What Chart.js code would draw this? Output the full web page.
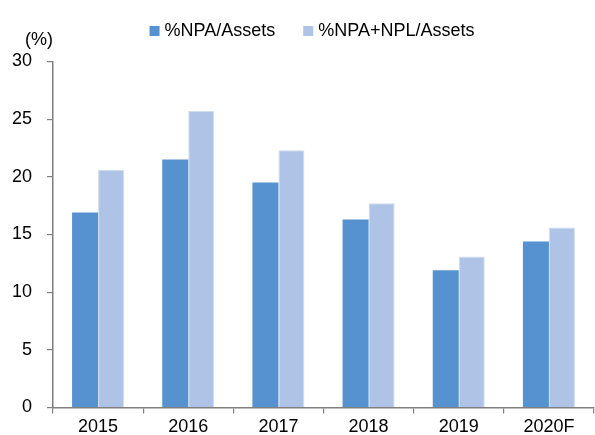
<!DOCTYPE html>
<html>
<head>
<meta charset="utf-8">
<script src="https://cdn.jsdelivr.net/npm/chart.js@4"></script>
<style>
html,body{margin:0;padding:0;background:#fff;}
#wrap{width:595px;height:435px;}
</style>
</head>
<body>
<div id="wrap"><canvas id="c" width="595" height="435"></canvas></div>
<script>
const categories = ['2015','2016','2017','2018','2019','2020F'];
const npaAssets = [16.9, 21.5, 19.5, 16.3, 11.9, 14.4];
const npaNplAssets = [20.6, 25.7, 22.3, 17.7, 13.1, 15.6];
const seriesLabels = ['%NPA/Assets', '%NPA+NPL/Assets'];
const unitLabel = '(%)';

const FONT = '"Liberation Sans", Arial, sans-serif';

const legendPlugin = {
  id: 'customLegend',
  afterDraw(chart) {
    const ctx = chart.ctx;
    ctx.save();
    ctx.font = '18px ' + FONT;
    ctx.fillStyle = '#000';
    ctx.textBaseline = 'middle';
    // unit label
    ctx.textAlign = 'left';
    ctx.fillText(unitLabel, 25, 40);
    // legend
    const box = 10, gapBox = 5, gapItem = 28;
    const items = chart.data.datasets.map(d => ({label: d.label, color: d.backgroundColor}));
    const widths = items.map(it => box + gapBox + ctx.measureText(it.label).width);
    const total = widths.reduce((a,b)=>a+b,0) + gapItem*(items.length-1);
    let x = 312 - total/2;
    const y = 31;
    items.forEach((it,i) => {
      ctx.fillStyle = it.color;
      ctx.fillRect(x, y - box/2, box, box);
      ctx.fillStyle = '#000';
      ctx.fillText(it.label, x + box + gapBox, y);
      x += widths[i] + gapItem;
    });
    ctx.restore();
  }
};

new Chart(document.getElementById('c'), {
  type: 'bar',
  data: {
    labels: categories,
    datasets: [
      {label: seriesLabels[0], data: npaAssets, backgroundColor: '#5592cf',
       categoryPercentage: 0.577, barPercentage: 1.0, borderWidth: 0},
      {label: seriesLabels[1], data: npaNplAssets, backgroundColor: '#aec3e5',
       borderColor: '#cfdcf1', borderWidth: 1, borderSkipped: 'bottom',
       categoryPercentage: 0.577, barPercentage: 1.0}
    ]
  },
  options: {
    responsive: false,
    animation: false,
    devicePixelRatio: 1,
    layout: {padding: {top: 61.5, right: 1, left: 0, bottom: 0}},
    plugins: {legend: {display: false}, tooltip: {enabled: false}},
    scales: {
      x: {
        grid: {display: true, drawOnChartArea: false, drawTicks: true, tickLength: 6,
               color: '#7f7f7f', lineWidth: 1.2, offset: true},
        border: {display: true, color: '#7f7f7f', width: 1.5},
        ticks: {font: {family: FONT, size: 18}, color: '#000', padding: 3, maxRotation: 0},
        afterFit(s) { s.height = 27.5; }
      },
      y: {
        min: 0, max: 30,
        grid: {display: true, drawOnChartArea: false, drawTicks: true, tickLength: 6,
               color: '#7f7f7f', lineWidth: 1.2},
        border: {display: true, color: '#7f7f7f', width: 1.5},
        ticks: {stepSize: 5, font: {family: FONT, size: 18}, color: '#000', padding: 15},
        afterFit(s) { s.width = 53; }
      }
    }
  },
  plugins: [legendPlugin]
});
</script>
</body>
</html>
